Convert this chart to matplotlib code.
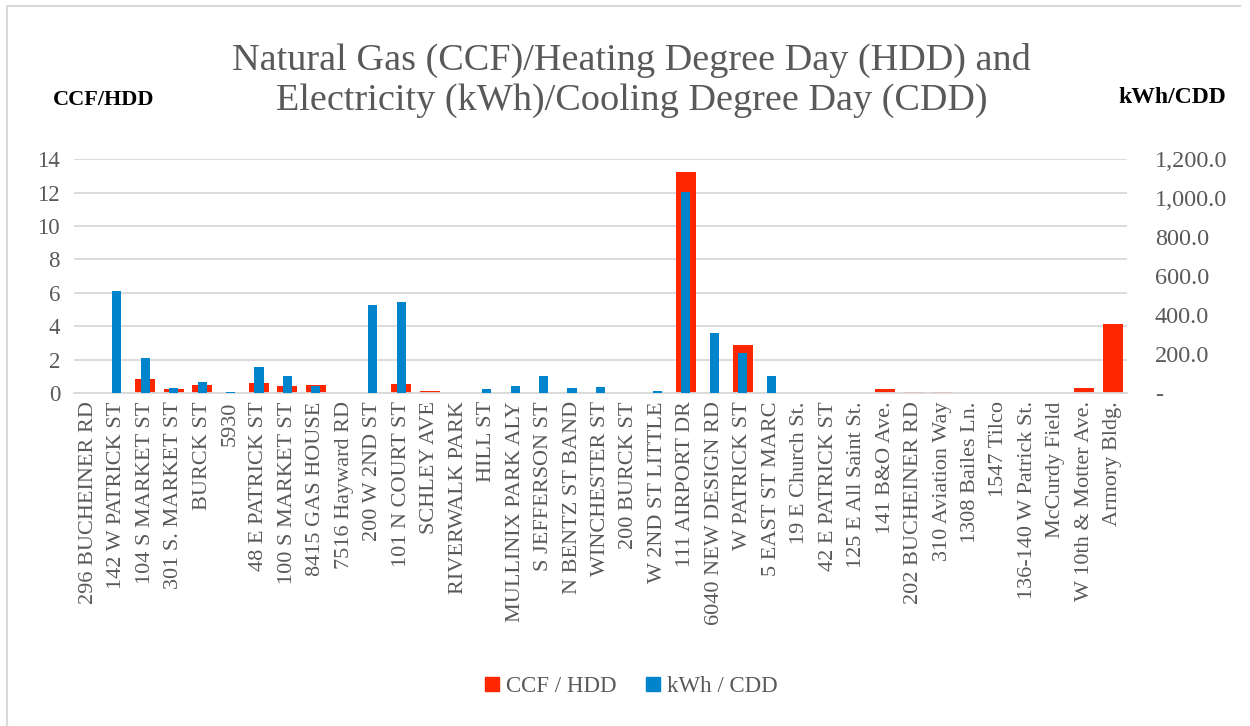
import matplotlib.pyplot as plt
from matplotlib.lines import Line2D
from matplotlib.ticker import FuncFormatter

# data
sites = ['296 BUCHEINER RD', '142 W PATRICK ST', '104 S MARKET ST', '301 S. MARKET ST',
         'BURCK ST', '5930', '48 E PATRICK ST', '100 S MARKET ST', '8415 GAS HOUSE',
         '7516 Hayward RD', '200 W 2ND ST', '101 N COURT ST', 'SCHLEY AVE',
         'RIVERWALK PARK', 'HILL ST', 'MULLINIX PARK ALY', 'S JEFFERSON ST',
         'N BENTZ ST BAND', 'WINCHESTER ST', '200 BURCK ST', 'W 2ND ST LITTLE',
         '111 AIRPORT DR', '6040 NEW DESIGN RD', 'W PATRICK ST', '5 EAST ST MARC',
         '19 E Church St.', '42 E PATRICK ST', '125 E All Saint St.', '141 B&O Ave.',
         '202 BUCHEINER RD', '310 Aviation Way', '1308 Bailes Ln.', '1547 Tilco',
         '136-140 W Patrick St.', 'McCurdy Field', 'W 10th & Motter Ave.', 'Armory Bldg.']
ccf_hdd = [0, 0, 0.86, 0.24, 0.46, 0, 0.58, 0.40, 0.50, 0, 0, 0.56, 0.10, 0,
           0, 0, 0, 0, 0, 0, 0, 13.22, 0, 2.90, 0, 0, 0.02, 0.02, 0.23,
           0.03, 0.03, 0, 0.02, 0.02, 0.02, 0.28, 4.12]
kwh_cdd = [2, 523, 178, 24, 58, 3, 132, 89, 36, 0, 451, 468, 0, 2,
           21, 38, 89, 27, 31, 2, 12, 1034, 310, 204, 89, 0, 0, 0, 0,
           0, 0, 0, 0, 0, 0, 0, 0]

red = '#FF2600'
blue = '#0084CC'
gray = '#595959'
serif = 'Liberation Serif'

fig = plt.figure(figsize=(12.5, 7.26), dpi=100)
# chart border (top and left edges are what shows in the picture)
fig.lines.append(Line2D([0.0056, 0.0056, 0.992], [0.0, 0.9917, 0.9917], transform=fig.transFigure,
                        color='#D9D9D9', linewidth=1.5))

ax = fig.add_axes([0.0592, 0.4587, 0.8424, 0.3219])
ax2 = ax.twinx()

x = list(range(len(sites)))
ax.bar(x, ccf_hdd, width=0.70, color=red, zorder=2)
ax2.bar(x, kwh_cdd, width=0.32, color=blue, zorder=3)

ax.set_xlim(-0.5, len(sites) - 0.5)
ax.set_ylim(0, 14)
ax2.set_ylim(0, 1200)
ax.set_yticks(range(0, 15, 2))
ax2.set_yticks(range(0, 1201, 200))
ax2.yaxis.set_major_formatter(FuncFormatter(lambda v, p: '-' if v == 0 else f'{v:,.1f}'))

ax.set_xticks(x)
ax.set_xticklabels(sites, rotation=90, fontsize=16, color=gray, family=serif)
ax.grid(axis='y', color='#D9D9D9', linewidth=1.3, zorder=0)
ax.set_axisbelow(True)

for a in (ax, ax2):
    for s in a.spines.values():
        s.set_visible(False)
    a.tick_params(length=0)
ax.spines['bottom'].set_visible(True)
ax.spines['bottom'].set_color('#D9D9D9')
ax.spines['bottom'].set_linewidth(1.3)

for lab in ax.get_yticklabels():
    lab.set_fontsize(16.5); lab.set_color(gray); lab.set_family(serif)
for lab in ax2.get_yticklabels():
    lab.set_fontsize(17.5); lab.set_color(gray); lab.set_family(serif)
ax.tick_params(axis='y', pad=10)
ax2.tick_params(axis='y', pad=20)
ax.tick_params(axis='x', pad=6)

fig.text(0.505, 0.889, 'Natural Gas (CCF)/Heating Degree Day (HDD) and\nElectricity (kWh)/Cooling Degree Day (CDD)',
         ha='center', va='center', fontsize=27.5, color=gray, family=serif, linespacing=1.2)
fig.text(0.083, 0.862, 'CCF/HDD', ha='center', va='center', fontsize=16, fontweight='bold',
         color='black', family=serif)
fig.text(0.9376, 0.866, 'kWh/CDD', ha='center', va='center', fontsize=17, fontweight='bold',
         color='black', family=serif)

handles = [plt.Rectangle((0, 0), 1, 1, color=red), plt.Rectangle((0, 0), 1, 1, color=blue)]
fig.legend(handles, ['CCF / HDD', 'kWh / CDD'], loc='center', bbox_to_anchor=(0.505, 0.054), ncol=2,
           frameon=False, handlelength=0.6, handleheight=0.6, handletextpad=0.3, columnspacing=1.3,
           prop={'family': serif, 'size': 16.5}, labelcolor=gray)

fig.savefig('out.png', dpi=100)
